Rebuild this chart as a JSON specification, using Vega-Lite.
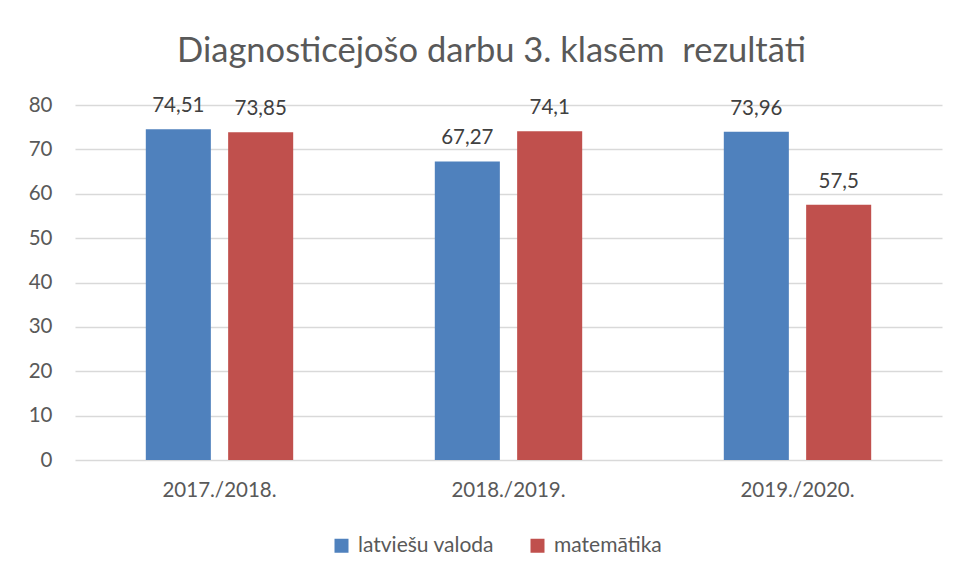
{
  "$schema": "https://vega.github.io/schema/vega-lite/v6.json",
  "width": 867,
  "height": 355,
  "autosize": {"type": "none"},
  "padding": {"left": 75, "top": 105, "right": 19, "bottom": 118},
  "background": "white",
  "config": {
    "locale": {"number": {"decimal": ",", "thousands": " ", "grouping": [3], "currency": ["", " €"]}},
    "view": {"stroke": null},
    "font": "Lato"
  },
  "title": {
    "text": "Diagnosticējošo darbu 3. klasēm\u00a0 rezultāti",
    "frame": "group",
    "anchor": "middle",
    "dx": -17,
    "fontSize": 34.5,
    "fontWeight": "normal",
    "color": "#595959",
    "font": "Lato",
    "offset": 26
  },
  "data": {
    "values": [
      {"year": "2017./2018.", "subject": "latviešu valoda", "value": 74.51},
      {"year": "2017./2018.", "subject": "matemātika", "value": 73.85},
      {"year": "2018./2019.", "subject": "latviešu valoda", "value": 67.27},
      {"year": "2018./2019.", "subject": "matemātika", "value": 74.1},
      {"year": "2019./2020.", "subject": "latviešu valoda", "value": 73.96},
      {"year": "2019./2020.", "subject": "matemātika", "value": 57.5}
    ]
  },
  "encoding": {
    "x": {
      "field": "year",
      "type": "nominal",
      "sort": null,
      "scale": {"paddingInner": 0.49, "paddingOuter": 0.245},
      "axis": {
        "title": null,
        "labelAngle": 0,
        "labelFontSize": 20.5,
        "labelColor": "#595959",
        "labelPadding": 20,
        "ticks": false,
        "domain": false
      }
    },
    "xOffset": {
      "field": "subject",
      "sort": ["latviešu valoda", "matemātika"],
      "scale": {"paddingInner": 0.21, "paddingOuter": 0}
    },
    "y": {
      "field": "value",
      "type": "quantitative",
      "scale": {"domain": [0, 80], "nice": false},
      "axis": {
        "title": null,
        "values": [0, 10, 20, 30, 40, 50, 60, 70, 80],
        "labelFontSize": 20.5,
        "labelColor": "#595959",
        "labelPadding": 23,
        "ticks": false,
        "domain": false,
        "gridColor": "#d9d9d9",
        "gridWidth": 1.3
      }
    },
    "color": {
      "field": "subject",
      "type": "nominal",
      "sort": ["latviešu valoda", "matemātika"],
      "scale": {"domain": ["latviešu valoda", "matemātika"], "range": ["#4f81bd", "#c0504d"]},
      "legend": {
        "title": null,
        "orient": "none",
        "direction": "horizontal",
        "legendX": 256,
        "legendY": 430,
        "symbolType": "square",
        "symbolSize": 196,
        "symbolStrokeWidth": 0,
        "symbolOpacity": 1,
        "labelFontSize": 21,
        "labelColor": "#595959",
        "labelOffset": 6,
        "columnPadding": 32
      }
    }
  },
  "layer": [
    {"mark": {"type": "bar"}},
    {
      "mark": {"type": "text", "baseline": "alphabetic", "dy": -17, "fontSize": 20.5, "color": "#404040"},
      "encoding": {
        "text": {"field": "value", "type": "quantitative", "format": "~g"},
        "color": {"value": "#404040"}
      }
    }
  ]
}
